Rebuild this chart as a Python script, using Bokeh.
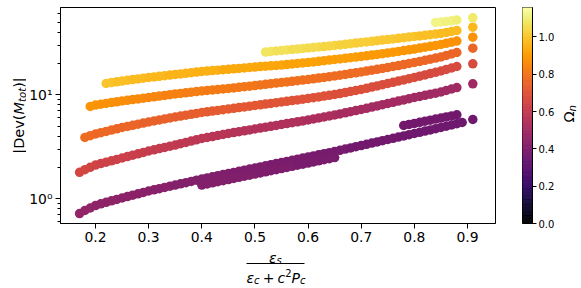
import numpy as np
from bokeh.plotting import figure
from bokeh.models import (ColumnDataSource, Range1d, FixedTicker, PrintfTickFormatter,
                          CustomJSTickFormatter, Label, BoxAnnotation)
from bokeh.layouts import row, column
from bokeh.palettes import Inferno256
from bokeh.transform import linear_cmap
from bokeh.embed import file_html
from bokeh.resources import INLINE

# ---------------- data ----------------
OMEGA_MAX = 1.158
x_ticks = [0.2, 0.3, 0.4, 0.5, 0.6, 0.7, 0.8, 0.9]
cbar_ticks = [0.0, 0.2, 0.4, 0.6, 0.8, 1.0]

# band 1 (lowest, purple): x from 0.17 step 0.01
band1_start = 0.17
band1_y = [0.722, 0.772, 0.816, 0.862, 0.895, 0.925, 0.957, 0.987, 1.018, 1.050,
           1.083, 1.117, 1.152, 1.189, 1.220, 1.253, 1.287, 1.322, 1.357, 1.394,
           1.431, 1.470, 1.509, 1.550, 1.589, 1.627, 1.668, 1.709, 1.751, 1.794,
           1.838, 1.884, 1.930, 1.978, 2.026, 2.076, 2.128, 2.180, 2.234, 2.289,
           2.346, 2.404, 2.463, 2.523, 2.585, 2.649, 2.715, 2.781, 2.850, 2.927,
           3.006, 3.087, 3.170, 3.254, 3.342, 3.432, 3.525, 3.620, 3.717, 3.817,
           3.920, 4.025, 4.134, 4.245, 4.359, 4.477, 4.597, 4.721, 4.849, 4.985,
           5.124, 5.268, 5.416]
band1_w = [0.46, 0.46, 0.46, 0.45,
           0.45, 0.45, 0.45, 0.45, 0.44, 0.44, 0.44, 0.44, 0.44, 0.43,
           0.43, 0.43, 0.43, 0.43, 0.42, 0.42, 0.42, 0.42, 0.42, 0.41,
           0.41, 0.41, 0.41, 0.41, 0.41, 0.40, 0.40, 0.40, 0.40, 0.40,
           0.40, 0.40, 0.39, 0.39, 0.39, 0.39, 0.39, 0.39, 0.39, 0.38,
           0.38, 0.38, 0.38, 0.38, 0.38, 0.38, 0.38, 0.37, 0.37, 0.37,
           0.37, 0.37, 0.37, 0.37, 0.37, 0.37, 0.37, 0.36, 0.36, 0.36,
           0.36, 0.36, 0.36, 0.36, 0.36, 0.36, 0.36, 0.36, 0.36]

band1_low_start = 0.40
band1_low_y = [1.356, 1.390, 1.424, 1.459, 1.495, 1.532, 1.570, 1.608, 1.648, 1.689,
               1.731, 1.773, 1.817, 1.862, 1.908, 1.955, 2.003, 2.053, 2.104, 2.155,
               2.208, 2.262, 2.318, 2.376, 2.433, 2.494]
band1_low_w = [0.42, 0.42, 0.42, 0.42, 0.42, 0.41, 0.41, 0.41, 0.41, 0.41,
               0.41, 0.40, 0.40, 0.40, 0.40, 0.40, 0.40, 0.40, 0.39, 0.39,
               0.39, 0.39, 0.39, 0.39, 0.39, 0.39]

band1_up_start = 0.78
band1_up_y = [5.07, 5.19, 5.31, 5.44, 5.58, 5.70, 5.84, 5.98, 6.13, 6.27, 6.42]
band1_up_w = [0.37, 0.37, 0.37, 0.37, 0.37, 0.37, 0.37, 0.37, 0.37, 0.37, 0.37]

band2_start = 0.17
band2_y = [1.798, 1.905, 2.009, 2.113, 2.180, 2.249, 2.319, 2.392, 2.468, 2.545,
           2.626, 2.708, 2.794, 2.882, 2.960, 3.039, 3.121, 3.205, 3.290, 3.387,
           3.486, 3.588, 3.693, 3.801, 3.886, 3.972, 4.061, 4.152, 4.245, 4.330,
           4.417, 4.506, 4.597, 4.690, 4.784, 4.880, 4.979, 5.079, 5.181, 5.285,
           5.392, 5.500, 5.611, 5.724, 5.853, 5.984, 6.118, 6.255, 6.394, 6.553,
           6.715, 6.881, 7.050, 7.224, 7.418, 7.617, 7.822, 8.033, 8.249, 8.471,
           8.699, 8.933, 9.173, 9.419, 9.652, 9.890, 10.13, 10.38, 10.64, 11.00,
           11.37, 11.75]
band2_w = [0.66, 0.66, 0.65, 0.65,
           0.64, 0.64, 0.64, 0.63, 0.63, 0.63, 0.62, 0.62, 0.62, 0.61,
           0.61, 0.61, 0.60, 0.60, 0.60, 0.59, 0.59, 0.59, 0.58, 0.58,
           0.58, 0.57, 0.57, 0.57, 0.57, 0.56, 0.56, 0.56, 0.56, 0.55,
           0.55, 0.55, 0.55, 0.55, 0.54, 0.54, 0.54, 0.54, 0.54, 0.53,
           0.53, 0.53, 0.53, 0.53, 0.53, 0.52, 0.52, 0.52, 0.52, 0.52,
           0.52, 0.51, 0.51, 0.51, 0.51, 0.51, 0.51, 0.51, 0.50, 0.50,
           0.50, 0.50, 0.50, 0.50, 0.50, 0.50, 0.50, 0.50]

band3_start = 0.18
band3_y = [3.886, 4.044, 4.200, 4.322, 4.448, 4.578, 4.711, 4.849, 4.968, 5.090,
           5.216, 5.344, 5.476, 5.599, 5.724, 5.853, 5.984, 6.118, 6.241, 6.366,
           6.494, 6.626, 6.759, 6.865, 6.972, 7.079, 7.189, 7.303, 7.418, 7.533,
           7.651, 7.770, 7.892, 8.014, 8.140, 8.267, 8.395, 8.527, 8.660, 8.795,
           8.933, 9.072, 9.213, 9.378, 9.545, 9.716, 9.890, 10.07, 10.29, 10.52,
           10.76, 11.00, 11.25, 11.55, 11.86, 12.18, 12.51, 12.85, 13.19, 13.55,
           13.91, 14.29, 14.67, 15.10, 15.54, 15.99, 16.46, 16.94, 17.52, 18.10,
           18.71]
band3_w = [0.78, 0.78, 0.77,
           0.77, 0.77, 0.77, 0.76, 0.76, 0.76, 0.76, 0.76, 0.75, 0.75,
           0.75, 0.75, 0.75, 0.75, 0.74, 0.74, 0.74, 0.74, 0.74, 0.74,
           0.73, 0.73, 0.73, 0.73, 0.73, 0.72, 0.72, 0.72, 0.72, 0.72,
           0.72, 0.71, 0.71, 0.71, 0.71, 0.71, 0.71, 0.70, 0.70, 0.70,
           0.70, 0.70, 0.70, 0.70, 0.69, 0.69, 0.69, 0.69, 0.69, 0.69,
           0.69, 0.68, 0.68, 0.68, 0.68, 0.68, 0.68, 0.68, 0.68, 0.68,
           0.67, 0.67, 0.67, 0.67, 0.67, 0.67, 0.67, 0.67]

band4_start = 0.19
band4_y = [7.719, 7.977, 8.120, 8.267, 8.414, 8.564, 8.718, 8.855, 8.993, 9.134,
           9.276, 9.419, 9.567, 9.716, 9.867, 10.02, 10.18, 10.31, 10.45, 10.59,
           10.74, 10.88, 11.00, 11.12, 11.25, 11.37, 11.50, 11.65, 11.81, 11.96,
           12.12, 12.28, 12.45, 12.61, 12.79, 12.96, 13.13, 13.30, 13.48, 13.66,
           13.85, 14.03, 14.25, 14.47, 14.70, 14.93, 15.16, 15.43, 15.71, 15.99,
           16.27, 16.57, 16.90, 17.24, 17.59, 17.94, 18.30, 18.71, 19.12, 19.55,
           20.00, 20.45, 20.95, 21.47, 22.00, 22.54, 23.09, 23.87, 24.68, 25.51]
band4_w = [0.89, 0.89,
           0.88, 0.88, 0.88, 0.87, 0.87, 0.87, 0.86, 0.86, 0.86, 0.85,
           0.85, 0.85, 0.84, 0.84, 0.84, 0.84, 0.83, 0.83, 0.83, 0.83,
           0.82, 0.82, 0.82, 0.82, 0.82, 0.81, 0.81, 0.81, 0.81, 0.81,
           0.80, 0.80, 0.80, 0.80, 0.80, 0.80, 0.79, 0.79, 0.79, 0.79,
           0.79, 0.79, 0.79, 0.78, 0.78, 0.78, 0.78, 0.78, 0.78, 0.78,
           0.78, 0.77, 0.77, 0.77, 0.77, 0.77, 0.77, 0.77, 0.77, 0.77,
           0.77, 0.76, 0.76, 0.76, 0.76, 0.76, 0.76, 0.76]

band5_start = 0.22
band5_y = [12.85, 13.10, 13.34, 13.57, 13.79, 14.00, 14.22, 14.44, 14.67, 14.86,
           15.07, 15.27, 15.47, 15.68, 15.89, 16.10, 16.31, 16.53, 16.75, 16.90,
           17.09, 17.24, 17.43, 17.59, 17.78, 17.94, 18.14, 18.30, 18.50, 18.67,
           18.84, 19.00, 19.17, 19.34, 19.55, 19.78, 20.00, 20.22, 20.45, 20.72,
           21.00, 21.28, 21.56, 21.85, 22.14, 22.44, 22.74, 23.04, 23.35, 23.71,
           24.08, 24.46, 24.84, 25.23, 25.68, 26.15, 26.61, 27.09, 27.56, 28.12,
           28.69, 29.26, 29.85, 30.45, 31.27, 32.04, 32.90]
band5_w = [1.00, 1.00, 0.99, 0.99, 0.99, 0.98, 0.98, 0.98, 0.97,
           0.97, 0.97, 0.97, 0.96, 0.96, 0.96, 0.96, 0.96, 0.95, 0.95,
           0.95, 0.95, 0.95, 0.94, 0.94, 0.94, 0.94, 0.94, 0.94, 0.93,
           0.93, 0.93, 0.93, 0.93, 0.93, 0.92, 0.92, 0.92, 0.92, 0.92,
           0.92, 0.92, 0.91, 0.91, 0.91, 0.91, 0.91, 0.91, 0.91, 0.90,
           0.90, 0.90, 0.90, 0.90, 0.90, 0.90, 0.90, 0.89, 0.89, 0.89,
           0.89, 0.89, 0.89, 0.89, 0.89, 0.88, 0.88, 0.88]

band6_start = 0.52
band6_y = [25.79, 26.08, 26.37, 26.67, 26.97, 27.27, 27.56, 27.88, 28.18, 28.50,
           28.82, 29.13, 29.46, 29.79, 30.19, 30.59, 31.00, 31.41, 31.83, 32.26,
           32.69, 33.13, 33.57, 34.01, 34.47, 34.93, 35.40, 35.87, 36.35, 36.84,
           37.33, 37.83, 38.34, 38.85, 39.72, 40.61, 41.52]
band6_w = [1.08, 1.08, 1.07, 1.07, 1.07, 1.06, 1.06, 1.06, 1.05,
           1.05, 1.05, 1.04, 1.04, 1.04, 1.03, 1.03, 1.03, 1.02, 1.02,
           1.02, 1.02, 1.01, 1.01, 1.01, 1.01, 1.00, 1.00, 1.00, 1.00,
           0.99, 0.99, 0.99, 0.99, 0.98, 0.98, 0.98, 0.98]

band7_start = 0.84
band7_y = [49.57, 50.12, 50.68, 51.46, 52.39]
band7_w = [1.12, 1.12, 1.11, 1.11, 1.10]

# isolated points at the right end of each band
dots_x = [0.91, 0.91, 0.91, 0.91, 0.91, 0.91, 0.91]
dots_y = [5.79, 12.76, 19.87, 28.06, 35.80, 44.67, 55.01]
dots_w = [0.36, 0.50, 0.67, 0.76, 0.88, 0.97, 1.09]

bands = [(band1_start, band1_y, band1_w), (band1_low_start, band1_low_y, band1_low_w),
         (band1_up_start, band1_up_y, band1_up_w), (band2_start, band2_y, band2_w),
         (band3_start, band3_y, band3_w), (band4_start, band4_y, band4_w),
         (band5_start, band5_y, band5_w), (band6_start, band6_y, band6_w),
         (band7_start, band7_y, band7_w)]

xs, ys, ws = [], [], []
for start, yv, wv in bands:
    n = min(len(yv), len(wv))
    xs += [round(start + 0.01 * i, 2) for i in range(n)]
    ys += list(yv[:n])
    ws += list(wv[:n])
xs += dots_x
ys += dots_y
ws += dots_w
src = ColumnDataSource(dict(x=xs, y=ys, w=ws))

FONT = "DejaVu Sans"
A = np.pi / 2
TOP_H = 248     # page 0 .. 248 (frames from 7 to 223)
BOT_H = 40      # page 248 .. 288
B_TOP = 7
B_BOT = 25


def lab(fig, x, y, text, size, italic=False, angle=0.0):
    fig.add_layout(Label(x=x, y=y, x_units="screen", y_units="screen", text=text,
                         text_font=FONT, text_font_size=f"{size}px",
                         text_font_style="italic" if italic else "normal",
                         text_color="black", text_align="left",
                         text_baseline="alphabetic", angle=angle))


def blank(width, height):
    f = figure(width=width, height=height, x_range=Range1d(0, 1), y_range=Range1d(0, 1),
               output_backend="svg", toolbar_location=None,
               x_axis_location=None, y_axis_location=None, min_border=0)
    f.min_border_left = f.min_border_right = f.min_border_top = f.min_border_bottom = 0
    f.outline_line_color = None
    f.xgrid.grid_line_color = None
    f.ygrid.grid_line_color = None
    f.background_fill_color = "white"
    f.border_fill_color = "white"
    return f


# ---------------- main figure ----------------
p = figure(width=482, height=TOP_H, x_range=Range1d(0.1341, 0.9527),
           y_range=Range1d(0.579, 69.1), y_axis_type="log",
           output_backend="svg", toolbar_location=None,
           min_border_left=34, min_border_right=13, min_border_top=B_TOP,
           min_border_bottom=B_BOT)
p.scatter("x", "y", source=src, size=9.5,
          fill_color=linear_cmap("w", Inferno256, 0, OMEGA_MAX), line_color=None)

p.xgrid.grid_line_color = None
p.ygrid.grid_line_color = None
p.outline_line_color = "black"
p.outline_line_width = 1
p.background_fill_color = "white"

for ax in (p.xaxis[0], p.yaxis[0]):
    ax.axis_line_color = "black"
    ax.major_tick_line_color = "black"
    ax.major_tick_out = 5
    ax.major_tick_in = 0
    ax.major_label_text_font = FONT
    ax.major_label_text_font_size = "13.9px"
    ax.major_label_text_color = "black"
    ax.major_label_standoff = 3

p.xaxis.ticker = FixedTicker(ticks=x_ticks)
p.xaxis.formatter = PrintfTickFormatter(format="%.1f")
p.xaxis.minor_tick_line_color = None

p.yaxis.ticker = FixedTicker(ticks=[1, 10],
                             minor_ticks=[0.6, 0.7, 0.8, 0.9, 2, 3, 4, 5, 6, 7, 8, 9,
                                          20, 30, 40, 50, 60])
p.yaxis.minor_tick_line_color = "black"
p.yaxis.minor_tick_out = 3
p.yaxis.minor_tick_in = 0
p.yaxis.formatter = CustomJSTickFormatter(code="""
const e = Math.round(Math.log10(tick));
const m = {"-":"⁻","0":"⁰","1":"¹","2":"²","3":"³","4":"⁴","5":"⁵","6":"⁶","7":"⁷","8":"⁸","9":"⁹"};
return "10" + String(e).split("").map(c => m[c]).join("");
""")

# ---------------- y-axis title strip: |Dev(M_tot)| ----------------
# (its frame is aligned with the main frame: y measured up from page y=223)
yl = blank(26, TOP_H)
lab(yl, 18.5, 69.8, "|Dev(", 14.5, angle=A)
lab(yl, 18.5, 109.0, "M", 14.5, italic=True, angle=A)
lab(yl, 21.5, 121.5, "tot", 10.2, italic=True, angle=A)
lab(yl, 18.5, 135.7, ")|", 14.5, angle=A)

# ---------------- colour bar figure ----------------
p2 = figure(width=49, height=TOP_H, x_range=Range1d(0, 1), y_range=Range1d(0, OMEGA_MAX),
            output_backend="svg", toolbar_location=None,
            x_axis_location=None, y_axis_location="right",
            min_border_left=14, min_border_right=22, min_border_top=B_TOP,
            min_border_bottom=B_BOT)
levels = np.linspace(0, OMEGA_MAX, len(Inferno256) + 1)
p2.quad(left=0, right=1, bottom=levels[:-1], top=levels[1:],
        fill_color=list(Inferno256), line_color=list(Inferno256), line_width=0.6)
p2.xgrid.grid_line_color = None
p2.ygrid.grid_line_color = None
p2.outline_line_color = "black"
p2.outline_line_width = 1
ax2 = p2.yaxis[0]
ax2.ticker = FixedTicker(ticks=cbar_ticks)
ax2.formatter = PrintfTickFormatter(format="%.1f")
ax2.axis_line_color = "black"
ax2.major_tick_line_color = "black"
ax2.major_tick_out = 4
ax2.major_tick_in = 0
ax2.minor_tick_line_color = None
ax2.major_label_text_font = FONT
ax2.major_label_text_font_size = "10px"
ax2.major_label_text_color = "black"
ax2.major_label_standoff = 2

# ---------------- colour bar title strip: Omega_n ----------------
om = blank(24, TOP_H)
lab(om, 11.5, 101, "Ω", 14.5, angle=A)
lab(om, 14.5, 112.1, "n", 10.2, italic=True, angle=A)

# ---------------- x-axis title strip: eps_s / (eps_c + c^2 P_c) ----------------
xl = blank(581, BOT_H)
lab(xl, 268.5, 31, "ε", 14, italic=True)
lab(xl, 276.1, 28, "s", 10, italic=True)
xl.add_layout(BoxAnnotation(left=246, right=304, top=25.5, bottom=24.5,
                            left_units="screen", right_units="screen",
                            top_units="screen", bottom_units="screen",
                            fill_color="black", fill_alpha=1.0, line_color=None))
lab(xl, 246.0, 11, "ε", 14, italic=True)
lab(xl, 253.6, 8, "c", 10, italic=True)
lab(xl, 262.2, 11, "+", 14)
lab(xl, 277.0, 11, "c", 14, italic=True)
lab(xl, 284.7, 16, "2", 10)
lab(xl, 291.1, 11, "P", 14, italic=True)
lab(xl, 299.5, 8, "c", 10, italic=True)

layout = column(row(yl, p, p2, om), xl)
open("out.html", "w", encoding="utf-8").write(file_html(layout, INLINE))
